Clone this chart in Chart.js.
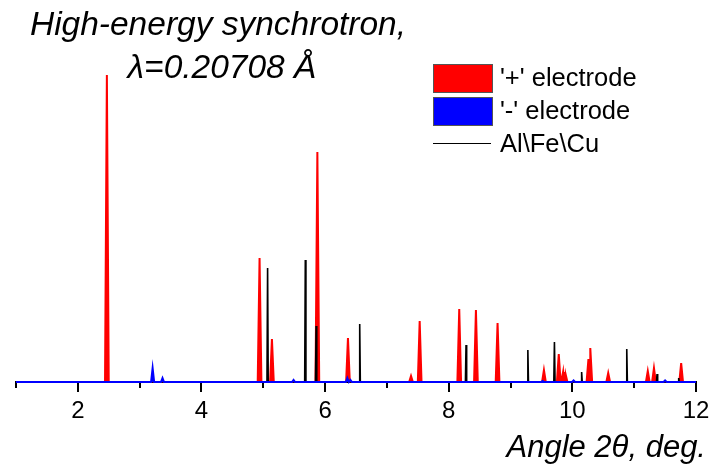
<!DOCTYPE html>
<html>
<head>
<meta charset="utf-8">
<script src="https://cdn.jsdelivr.net/npm/chart.js@4.4.1/dist/chart.umd.min.js"></script>
<style>
  body { margin: 0; background: #fff; }
  #wrap { position: relative; width: 719px; height: 465px; font-family: "Liberation Sans", Arial, sans-serif; }
  .t { position: absolute; white-space: nowrap; color: #000; }
  .title { left: 0; width: 436px; text-align: center; font-size: 33.5px; line-height: 34px; font-style: italic; }
  .leg { position: absolute; left: 433px; width: 58px; }
  .legtxt { left: 500px; font-size: 25.5px; line-height: 26px; }
</style>
</head>
<body>
<div id="wrap">
  <canvas id="myChart" width="719" height="465"></canvas>
  <div class="t title" style="top:7px">High-energy synchrotron,</div>
  <div class="t title" style="top:50px;left:4px">λ=0.20708 Å</div>

  <div class="leg" style="top:64px;height:27px;background:#f00;border:1px solid #555"></div>
  <div class="t legtxt" style="top:64px">'+' electrode</div>
  <div class="leg" style="top:97px;height:27px;background:#00f;border:1px solid #555"></div>
  <div class="t legtxt" style="top:97px">'-' electrode</div>
  <div class="leg" style="top:143px;height:0;border-top:1.5px solid #000"></div>
  <div class="t legtxt" style="top:130px">Al\Fe\Cu</div>

  <div class="t" style="right:13px;top:431px;font-size:31px;line-height:31px;font-style:italic">Angle 2θ, deg.</div>
</div>
<script>
// peak positions (2theta, deg.) and heights
const redPos = [2.47, 4.94, 5.14, 5.875, 6.37, 7.39, 7.53, 8.17, 8.44, 8.79, 9.54, 9.78, 9.85, 9.89, 10.26, 10.29, 10.58, 11.22, 11.32, 11.76];
const redH   = [307, 124, 43, 230, 44, 6, 61, 73, 72, 59, 12, 28, 10, 8, 23, 34, 9, 11, 14, 19];

const bluePos = [3.21, 3.37, 5.49, 6.36, 6.41, 9.52, 10.02, 11.5];
const blueH   = [14, 4, 2, 4, 2, 1, 1.5, 1.5];

const blackPos = [5.07, 5.68, 5.855, 6.56, 8.28, 9.28, 9.71, 10.15, 10.88, 11.37, 11.72];
const blackH   = [114, 122, 56, 58, 37, 32, 40, 10, 33, 8, 4];

const xMin = 1, xMax = 12;
const xTicks = [2, 4, 6, 8, 10, 12];

// each peak as a narrow triangle on a zero baseline
function profile(pos, h, hw){
    const pts = [{x: xMin, y: 0}, {x: xMax, y: 0}];
    pos.forEach((c, i) => {
        pts.push({x: c - hw, y: 0}, {x: c, y: h[i]}, {x: c + hw, y: 0});
    });
    pts.sort((a, b) => a.x - b.x);
    return pts;
}

const minorTicks = {
    id: 'minorTicks',
    afterDraw(chart){
        const ctx = chart.ctx;
        const sx = chart.scales.x;
        const y0 = chart.chartArea.bottom;
        ctx.save();
        ctx.strokeStyle = '#000';
        ctx.lineWidth = 2;
        for (let v = xMin; v <= xMax; v++) {
            const px = Math.round(sx.getPixelForValue(v));
            const len = v % 2 === 0 ? 10 : 6;
            ctx.beginPath();
            ctx.moveTo(px, y0 + 1);
            ctx.lineTo(px, y0 + len);
            ctx.stroke();
        }
        ctx.restore();
    }
};

const ctx = document.getElementById('myChart').getContext('2d');
const myChart = new Chart(ctx, {
    type: 'line',
    data: {
        datasets: [{
            label: "'+' electrode",
            data: profile(redPos, redH, 0.03),
            borderColor: '#ff0000',
            backgroundColor: '#ff0000',
            borderWidth: 2,
            fill: 'origin',
            clip: false,
            order: 3
        }, {
            label: "'-' electrode",
            data: profile(bluePos, blueH, 0.025),
            borderColor: '#0000ff',
            backgroundColor: '#0000ff',
            borderWidth: 2,
            fill: 'origin',
            clip: false,
            order: 1
        }, {
            label: 'Al\\Fe\\Cu',
            data: profile(blackPos, blackH, 0.01),
            borderColor: '#000000',
            borderWidth: 1.6,
            fill: false,
            clip: false,
            order: 2
        }]
    },
    options: {
        responsive: false,
        animation: false,
        events: [],
        elements: { point: { radius: 0 }, line: { tension: 0 } },
        layout: { padding: { left: 16, right: 23, top: 52, bottom: 0 } },
        plugins: { legend: { display: false }, tooltip: { enabled: false } },
        scales: {
            x: {
                type: 'linear',
                min: xMin,
                max: xMax,
                afterBuildTicks: s => { s.ticks = xTicks.map(v => ({value: v})); },
                afterFit: s => { s.height = 83; },
                grid: { display: false },
                border: { display: true, color: '#000', width: 2 },
                ticks: {
                    padding: 7,
                    color: '#000',
                    font: { family: '"Liberation Sans", Arial, sans-serif', size: 24 }
                }
            },
            y: {
                display: false,
                min: 0,
                max: 330
            }
        }
    },
    plugins: [minorTicks]
});
</script>
</body>
</html>
